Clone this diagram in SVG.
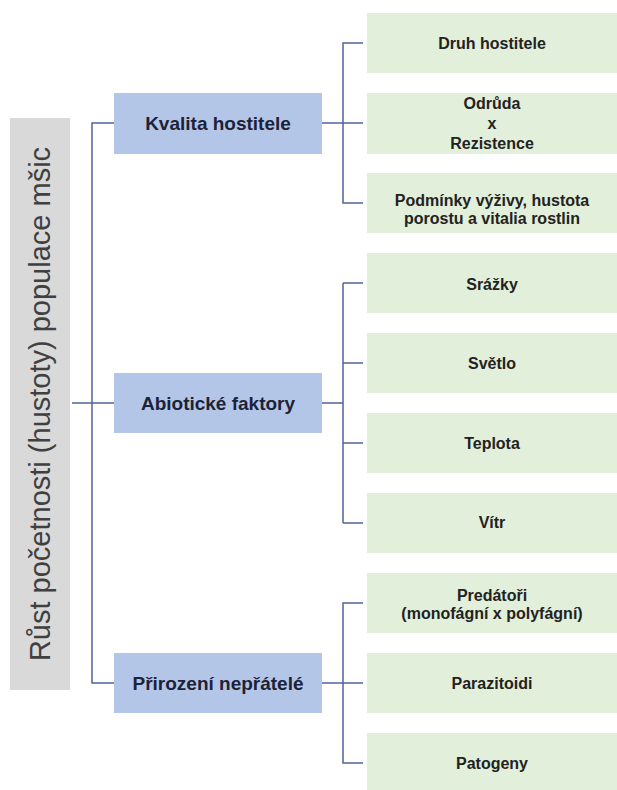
<svg xmlns="http://www.w3.org/2000/svg" width="617" height="790" viewBox="0 0 617 790">
<style>
.root{fill:#d9d9d9}
.l1{fill:#b4c6e7}
.l2{fill:#e2efda}
.rt{font-family:"Liberation Sans",Arial,sans-serif;font-size:29px;fill:#404040;text-anchor:middle;dominant-baseline:central}
.t1{font-family:"Liberation Sans",Arial,sans-serif;font-size:19px;font-weight:bold;fill:#1c2237;text-anchor:middle;dominant-baseline:central}
.t2{font-family:"Liberation Sans",Arial,sans-serif;font-size:16px;font-weight:bold;fill:#222;text-anchor:middle;dominant-baseline:central}
.c{fill:none;stroke:#52639a;stroke-width:1.5}
</style>
<rect width="617" height="790" fill="#ffffff"/>
<g id="connectors">
<path class="c" d="M72 403H114M114 123H92V683H114"/>
<path class="c" d="M322 123H363M363 43H343V203H363"/>
<path class="c" d="M322 403H343M343 283V523M343 283H363M343 363H363M343 443H363M343 523H363"/>
<path class="c" d="M322 683H363M363 603H343V763H363"/>
</g>
<g id="root">
<rect class="root" x="10" y="118" width="60" height="572"/>
<text class="rt" transform="translate(40 404) rotate(-90)">Růst početnosti (hustoty) populace mšic</text>
</g>
<g id="kvalita">
<rect class="l1" x="114" y="93" width="208" height="61"/>
<text class="t1" x="218" y="123">Kvalita hostitele</text>
</g>
<g id="abioticke">
<rect class="l1" x="114" y="373" width="208" height="60"/>
<text class="t1" x="218" y="403">Abiotické faktory</text>
</g>
<g id="neprátele">
<rect class="l1" x="114" y="653" width="208" height="60"/>
<text class="t1" x="218" y="683">Přirození nepřátelé</text>
</g>
<g id="druh">
<rect class="l2" x="367" y="13" width="250" height="60"/>
<text class="t2" x="492" y="43">Druh hostitele</text>
</g>
<g id="odruda">
<rect class="l2" x="367" y="93" width="250" height="61"/>
<text class="t2" x="492" y="103">Odrůda</text>
<text class="t2" x="492" y="123">x</text>
<text class="t2" x="492" y="143">Rezistence</text>
</g>
<g id="podminky">
<rect class="l2" x="367" y="173" width="250" height="60"/>
<text class="t2" x="492" y="200">Podmínky výživy, hustota</text>
<text class="t2" x="492" y="218">porostu a vitalia rostlin</text>
</g>
<g id="srazky">
<rect class="l2" x="367" y="253" width="250" height="60"/>
<text class="t2" x="492" y="284">Srážky</text>
</g>
<g id="svetlo">
<rect class="l2" x="367" y="333" width="250" height="60"/>
<text class="t2" x="492" y="363">Světlo</text>
</g>
<g id="teplota">
<rect class="l2" x="367" y="413" width="250" height="60"/>
<text class="t2" x="492" y="443">Teplota</text>
</g>
<g id="vitr">
<rect class="l2" x="367" y="493" width="250" height="60"/>
<text class="t2" x="492" y="522">Vítr</text>
</g>
<g id="predatori">
<rect class="l2" x="367" y="573" width="250" height="60"/>
<text class="t2" x="492" y="595">Predátoři</text>
<text class="t2" x="492" y="613">(monofágní x polyfágní)</text>
</g>
<g id="parazitoidi">
<rect class="l2" x="367" y="653" width="250" height="60"/>
<text class="t2" x="492" y="683">Parazitoidi</text>
</g>
<g id="patogeny">
<rect class="l2" x="367" y="733" width="250" height="60"/>
<text class="t2" x="492" y="763">Patogeny</text>
</g>
</svg>
